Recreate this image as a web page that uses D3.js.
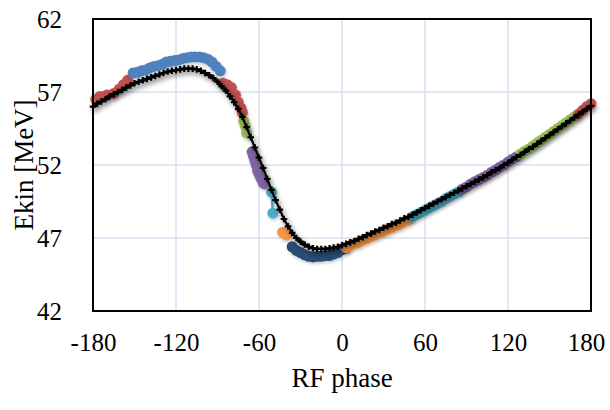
<!DOCTYPE html>
<html>
<head>
<meta charset="utf-8">
<script src="https://cdn.jsdelivr.net/npm/d3@7"></script>
<style>
  body { margin: 0; background: #fff; }
  text { font-family: "Liberation Serif", "Times New Roman", serif; fill: #000; }
</style>
</head>
<body>
<svg id="chart" width="610" height="410"></svg>
<script>
// simulated curve, every 3 degrees from -180 to 180
const simPhase = d3.range(-180, 181, 3);
const simEkin = [
  56.0, 56.2, 56.35, 56.5, 56.7, 56.85, 57.0, 57.15, 57.3, 57.45,
  57.6, 57.7, 57.8, 57.9, 58.0, 58.1, 58.2, 58.3, 58.4, 58.45,
  58.5, 58.55, 58.6, 58.6, 58.6, 58.55, 58.45, 58.3, 58.15, 57.95,
  57.7, 57.4, 57.1, 56.7, 56.3, 55.85, 55.3, 54.6, 53.9, 53.2,
  52.5, 51.8, 51.05, 50.3, 49.6, 48.95, 48.3, 47.8, 47.35, 47.0,
  46.75, 46.55, 46.4, 46.3, 46.25, 46.25, 46.25, 46.3, 46.35, 46.4,
  46.5, 46.6, 46.7, 46.8, 46.95, 47.05, 47.2, 47.3, 47.45, 47.55,
  47.7, 47.8, 47.95, 48.05, 48.2, 48.35, 48.45, 48.6, 48.75, 48.9,
  49.05, 49.2, 49.35, 49.5, 49.65, 49.8, 49.95, 50.1, 50.25, 50.4,
  50.55, 50.7, 50.85, 51.0, 51.15, 51.3, 51.5, 51.65, 51.8, 52.0,
  52.15, 52.35, 52.55, 52.7, 52.9, 53.1, 53.25, 53.45, 53.65, 53.85,
  54.05, 54.25, 54.45, 54.65, 54.85, 55.05, 55.25, 55.45, 55.65, 55.85,
  56.05
];

// measured scans
const red1Phase = [-178, -175, -170, -165, -161, -158, -155];
const red1Ekin = [56.5, 56.7, 56.8, 56.9, 57.2, 57.5, 57.8];
const bluePhase = [-151, -148, -145, -142, -139, -136, -133, -130, -127, -124, -121,
  -118, -115, -112, -109, -106, -103, -100, -97, -94, -91, -88];
const blueEkin = [58.3, 58.35, 58.45, 58.5, 58.65, 58.75, 58.8, 58.9, 59.05, 59.1, 59.15,
  59.2, 59.3, 59.35, 59.4, 59.4, 59.4, 59.35, 59.25, 59.05, 58.75, 58.45];
const red2Phase = [-86, -83, -80, -77, -75, -73, -72];
const red2Ekin = [57.6, 57.5, 57.3, 56.8, 56.3, 55.9, 55.6];
const green1Phase = [-71, -70, -69];
const green1Ekin = [55.0, 54.7, 54.2];
const purple1Phase = [-65, -64, -63, -62, -61, -60, -59, -58, -57, -56];
const purple1Ekin = [52.9, 52.6, 52.3, 52.0, 51.6, 51.4, 51.2, 51.0, 50.8, 50.7];
const cyan1Phase = [-51, -50];
const cyan1Ekin = [50.15, 48.7];
const orange1Phase = [-43, -41, -40];
const orange1Ekin = [47.4, 47.3, 47.2];
const navyPhase = [-36, -33, -30, -27, -24, -21, -18, -15, -12, -9, -6, -3, 0, 3];
const navyEkin = [46.4, 46.15, 46.0, 45.85, 45.75, 45.7, 45.75, 45.75, 45.8, 45.8, 45.9, 46.0, 46.2, 46.3];
const orange2Phase = [3, 6, 9, 12, 15, 18, 21, 24, 27, 30, 33, 36, 39, 42, 45, 48];
const orange2Ekin = [46.35, 46.5, 46.6, 46.7, 46.85, 46.95, 47.1, 47.2, 47.35, 47.45,
  47.6, 47.7, 47.85, 47.95, 48.1, 48.2];
const cyan2Phase = [51, 54, 57, 60, 63, 66, 69, 72, 75, 78, 81, 84];
const cyan2Ekin = [48.45, 48.6, 48.75, 48.9, 49.05, 49.2, 49.35, 49.5, 49.7, 49.85, 50.0, 50.15];
const purple2Phase = [87, 90, 93, 96, 99, 102, 105, 108, 111, 114, 117, 120, 123, 126];
const purple2Ekin = [50.35, 50.5, 50.7, 50.85, 51.0, 51.15, 51.3, 51.5, 51.65, 51.85,
  52.0, 52.2, 52.4, 52.55];
const green2Phase = [129, 132, 135, 138, 141, 144, 147, 150, 153, 156, 159, 162, 165, 168];
const green2Ekin = [52.75, 52.95, 53.1, 53.3, 53.5, 53.7, 53.9, 54.1, 54.3, 54.5,
  54.7, 54.9, 55.1, 55.3];
const red3Phase = [171, 174, 177, 180];
const red3Ekin = [55.5, 55.75, 56.0, 56.2];

const xTicks = [-180, -120, -60, 0, 60, 120, 180];
const yTicks = [42, 47, 52, 57, 62];

const scans = [
  {x: red1Phase, y: red1Ekin, color: "#C0504D"},
  {x: bluePhase, y: blueEkin, color: "#4F81BD"},
  {x: red2Phase, y: red2Ekin, color: "#C0504D"},
  {x: green1Phase, y: green1Ekin, color: "#9BBB59"},
  {x: purple1Phase, y: purple1Ekin, color: "#8064A2"},
  {x: cyan1Phase, y: cyan1Ekin, color: "#4BACC6"},
  {x: orange1Phase, y: orange1Ekin, color: "#F79646"},
  {x: navyPhase, y: navyEkin, color: "#2C4D75"},
  {x: orange2Phase, y: orange2Ekin, color: "#F79646"},
  {x: cyan2Phase, y: cyan2Ekin, color: "#4BACC6"},
  {x: purple2Phase, y: purple2Ekin, color: "#8064A2"},
  {x: green2Phase, y: green2Ekin, color: "#9BBB59"},
  {x: red3Phase, y: red3Ekin, color: "#C0504D"}
];

const margin = {left: 93, top: 19, right: 19, bottom: 99};
const svg = d3.select("#chart");
const width = 610 - margin.left - margin.right;
const height = 410 - margin.top - margin.bottom;

const x = d3.scaleLinear().domain([-180, 180]).range([0, width]);
const y = d3.scaleLinear().domain([42, 62]).range([height, 0]);

const defs = svg.append("defs");
const shadow = defs.append("filter").attr("id", "shadow")
  .attr("x", "-10%").attr("y", "-10%").attr("width", "130%").attr("height", "130%");
shadow.append("feDropShadow")
  .attr("dx", 2).attr("dy", 3).attr("stdDeviation", 2.5)
  .attr("flood-color", "#000").attr("flood-opacity", 0.45);
const soft = defs.append("filter").attr("id", "soft")
  .attr("x", "-10%").attr("y", "-10%").attr("width", "130%").attr("height", "130%");
soft.append("feDropShadow")
  .attr("dx", 1).attr("dy", 2).attr("stdDeviation", 1.5)
  .attr("flood-color", "#000").attr("flood-opacity", 0.2);

const g = svg.append("g").attr("transform", `translate(${margin.left},${margin.top})`);

// grid
g.append("g").selectAll("line").data(xTicks.slice(1, -1)).join("line")
  .attr("x1", d => x(d)).attr("x2", d => x(d))
  .attr("y1", 0).attr("y2", height)
  .attr("stroke", "#D6E2F2").attr("stroke-width", 1.5);
g.append("g").selectAll("line").data(yTicks.slice(1, -1)).join("line")
  .attr("y1", d => y(d)).attr("y2", d => y(d))
  .attr("x1", 0).attr("x2", width)
  .attr("stroke", "#D6E2F2").attr("stroke-width", 1.5);

// measured scans
const line = d3.line();
scans.forEach(s => {
  const pts = s.x.map((p, i) => [x(p), y(s.y[i])]);
  const sg = g.append("g").attr("filter", "url(#soft)");
  sg.append("path").attr("d", line(pts))
    .attr("fill", "none").attr("stroke", s.color).attr("stroke-width", 2.5);
  sg.selectAll("circle").data(pts).join("circle")
    .attr("cx", d => d[0]).attr("cy", d => d[1]).attr("r", 5.5)
    .attr("fill", s.color);
});

// simulation
const sim = g.append("g").attr("filter", "url(#shadow)");
const simPts = simPhase.map((p, i) => [x(p), y(simEkin[i])]);
sim.append("path").attr("d", line(simPts))
  .attr("fill", "none").attr("stroke", "#000").attr("stroke-width", 2.2);
sim.selectAll("path.m").data(simPts).join("path").attr("class", "m")
  .attr("transform", d => `translate(${d[0]},${d[1]})`)
  .attr("d", d3.symbol(d3.symbolCross, 24))
  .attr("fill", "#000");

// frame
g.append("rect").attr("width", width).attr("height", height)
  .attr("fill", "none").attr("stroke", "#000").attr("stroke-width", 2);

// axes
const xAxis = g.append("g").attr("transform", `translate(0,${height})`)
  .call(d3.axisBottom(x).tickValues(xTicks).tickFormat(d => String(d)).tickSize(0).tickPadding(22));
const yAxis = g.append("g")
  .call(d3.axisLeft(y).tickValues(yTicks).tickFormat(d => String(d)).tickSize(0).tickPadding(31));
[xAxis, yAxis].forEach(a => {
  a.select(".domain").remove();
  a.selectAll("text").attr("font-size", 25)
    .attr("font-family", "'Liberation Serif', serif").attr("fill", "#000");
});
// last label pulled in so it stays inside the picture
xAxis.selectAll("text").filter(d => d === 180).attr("dx", -5);

svg.append("text").attr("x", margin.left + width / 2).attr("y", 387)
  .attr("text-anchor", "middle").attr("font-size", 27).text("RF phase");
svg.append("text")
  .attr("transform", `translate(33,${margin.top + height / 2}) rotate(-90)`)
  .attr("text-anchor", "middle").attr("font-size", 27).text("Ekin [MeV]");
</script>
</body>
</html>
